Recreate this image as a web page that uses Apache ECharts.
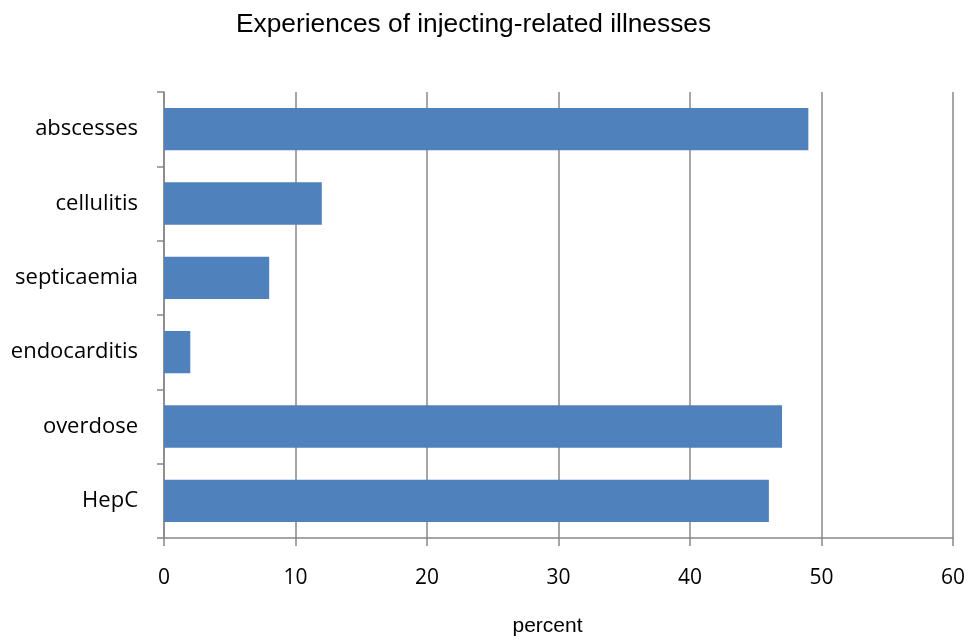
<!DOCTYPE html>
<html><head><meta charset="utf-8">
<script src="https://cdn.jsdelivr.net/npm/echarts@6/dist/echarts.min.js"></script>
<style>html,body{margin:0;padding:0;background:#fff}#c{width:968px;height:642px}</style>
</head><body><div id="c"></div>
<script>
const categories = ["abscesses", "cellulitis", "septicaemia", "endocarditis", "overdose", "HepC"];
const values = [49, 12, 8, 2, 47, 46];
const xTicks = [0, 10, 20, 30, 40, 50, 60];

const chart = echarts.init(document.getElementById('c'));
const gray = '#888888';
chart.setOption({
  animation: false,
  title: {
    text: 'Experiences of injecting-related illnesses',
    left: 231, top: 7,
    textStyle: {fontFamily: '"Liberation Sans", Arial', fontSize: 26.3, fontWeight: 'normal', color: '#000'}
  },
  grid: {left: 164, right: 15, top: 92, bottom: 102, containLabel: false},
  xAxis: {
    type: 'value', min: xTicks[0], max: xTicks[xTicks.length - 1], interval: 10,
    name: 'percent', nameLocation: 'middle', nameGap: 78,
    nameTextStyle: {fontFamily: '"Liberation Sans", Arial', fontSize: 21, color: '#000', padding: [0, 22, 0, 0]},
    axisLine: {show: true, lineStyle: {color: gray, width: 1.5}},
    axisTick: {show: true, length: 8, lineStyle: {color: gray, width: 1.5}},
    axisLabel: {margin: 30, fontFamily: '"Open Sans", Lato, sans-serif', fontSize: 21, color: '#000'},
    splitLine: {show: true, lineStyle: {color: gray, width: 1.5}}
  },
  yAxis: {
    type: 'category', data: categories, inverse: true,
    axisLine: {show: true, lineStyle: {color: gray, width: 1.5}},
    axisTick: {show: true, length: 7, lineStyle: {color: gray, width: 1.5}},
    axisLabel: {margin: 26, fontFamily: '"Open Sans", Lato, sans-serif', fontSize: 22, color: '#000', padding: [4, 0, 0, 0]},
    splitLine: {show: false}
  },
  series: [{
    type: 'bar', data: values, barWidth: '57%',
    itemStyle: {color: '#4F81BD'}
  }]
});
</script></body></html>
